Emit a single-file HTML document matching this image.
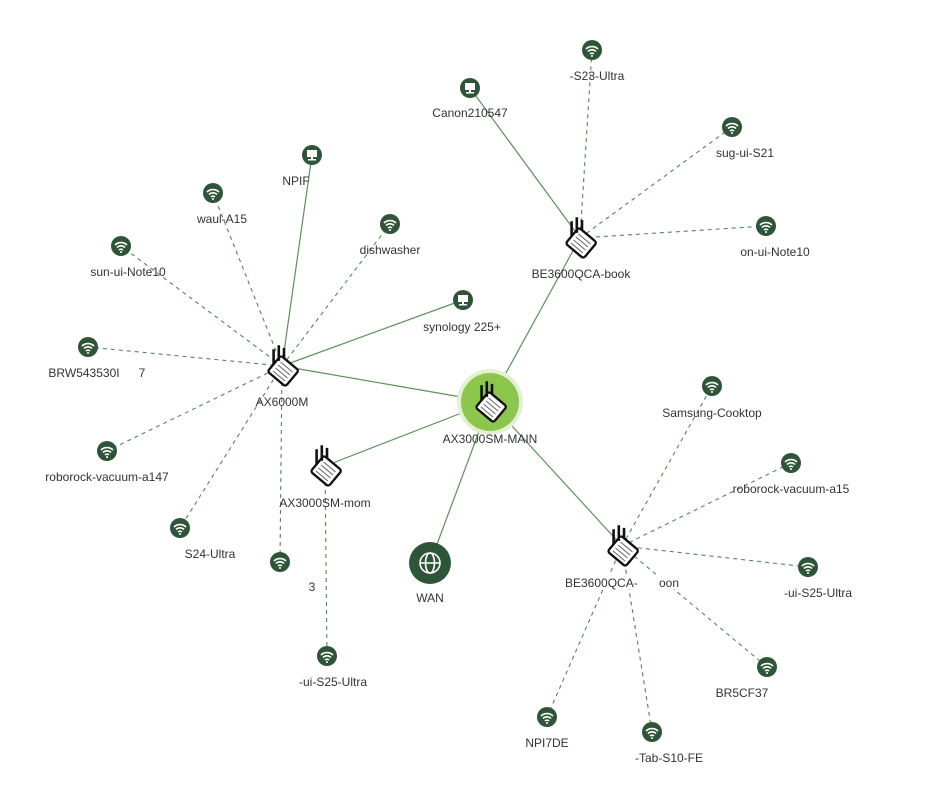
<!DOCTYPE html>
<html><head><meta charset="utf-8"><style>
html,body{margin:0;padding:0;background:#fff;width:939px;height:790px;overflow:hidden}
text{font-family:"Liberation Sans",Arial,sans-serif;font-size:12px;fill:#333;text-anchor:middle}
</style></head><body>
<svg width="939" height="790" viewBox="0 0 939 790" xmlns="http://www.w3.org/2000/svg">
<defs>
<g id="wifi"><circle r="10" fill="#2e5538"/>
<path d="M-6,-1 A8.5,8.5 0 0 1 6,-1" stroke="#fff" stroke-width="1.6" fill="none"/>
<path d="M-4,1.5 A5.5,5.5 0 0 1 4,1.5" stroke="#fff" stroke-width="1.6" fill="none"/>
<path d="M-2,4 A2.8,2.8 0 0 1 2,4" stroke="#fff" stroke-width="1.6" fill="none"/>
<circle cy="6" r="1" fill="#fff"/></g>
<g id="mon"><circle r="10" fill="#2e5538"/>
<rect x="-5" y="-5" width="10" height="7" fill="#fff"/><rect x="-1" y="2" width="2" height="2" fill="#fff"/><rect x="-4" y="4" width="8" height="1.5" fill="#fff"/></g>
<g id="rtr"><g transform="scale(1.3)">
<g transform="rotate(40)">
<rect x="-9" y="-7" width="18" height="16" rx="2" fill="#fff" stroke="#111" stroke-width="1.8"/>
<path d="M-6,-3H6M-6,0H6M-6,3H6M-6,6H6" stroke="#666" stroke-width="0.8"/>
</g>
<path d="M-8,-4V-16M-4,-7V-19M0,-9V-17" stroke="#111" stroke-width="2"/>
</g></g>
</defs>
<g stroke="#5c925c" stroke-width="1.2" fill="none">
<line x1="490" y1="402" x2="282" y2="366"/>
<line x1="490" y1="402" x2="325" y2="466"/>
<line x1="490" y1="402" x2="580" y2="238"/>
<line x1="490" y1="402" x2="622" y2="546"/>
<line x1="490" y1="402" x2="430" y2="563"/>
<line x1="580" y1="238" x2="470" y2="88"/>
<line x1="282" y1="366" x2="312" y2="155"/>
<line x1="282" y1="366" x2="463" y2="300"/>
</g>
<g stroke="#4d8a55" stroke-width="1.1" fill="none" stroke-dasharray="4,4">
<line x1="580" y1="238" x2="592" y2="50"/>
<line x1="580" y1="238" x2="732" y2="127"/>
<line x1="580" y1="238" x2="766" y2="226"/>
<line x1="282" y1="366" x2="213" y2="193"/>
<line x1="282" y1="366" x2="390" y2="224"/>
<line x1="282" y1="366" x2="121" y2="246"/>
<line x1="282" y1="366" x2="88" y2="347"/>
<line x1="282" y1="366" x2="107" y2="451"/>
<line x1="282" y1="366" x2="180" y2="528"/>
<line x1="282" y1="366" x2="280" y2="562"/>
<line x1="325" y1="466" x2="327" y2="656"/>
<line x1="622" y1="546" x2="712" y2="386"/>
<line x1="622" y1="546" x2="791" y2="463"/>
<line x1="622" y1="546" x2="808" y2="567"/>
<line x1="622" y1="546" x2="767" y2="667"/>
<line x1="622" y1="546" x2="547" y2="717"/>
<line x1="622" y1="546" x2="652" y2="732"/>
</g>
<circle cx="490" cy="402" r="33" fill="#e4f0d4"/>
<circle cx="490" cy="402" r="29" fill="#8cc64c"/>
<use href="#rtr" x="492" y="406"/>
<use href="#rtr" x="284" y="370"/>
<use href="#rtr" x="327" y="470"/>
<use href="#rtr" x="582" y="242"/>
<use href="#rtr" x="624" y="550"/>
<circle cx="430" cy="563" r="21" fill="#2e5538"/>
<g stroke="#fff" stroke-width="1.6" fill="none"><circle cx="430" cy="563" r="10"/><ellipse cx="430" cy="563" rx="4.5" ry="10"/><line x1="420" y1="563" x2="440" y2="563"/></g>
<use href="#wifi" x="592" y="50"/><use href="#mon" x="470" y="88"/>
<use href="#wifi" x="732" y="127"/><use href="#wifi" x="766" y="226"/>
<use href="#mon" x="312" y="155"/><use href="#wifi" x="213" y="193"/>
<use href="#wifi" x="390" y="224"/><use href="#wifi" x="121" y="246"/>
<use href="#mon" x="463" y="300"/><use href="#wifi" x="88" y="347"/>
<use href="#wifi" x="107" y="451"/><use href="#wifi" x="180" y="528"/>
<use href="#wifi" x="280" y="562"/><use href="#wifi" x="327" y="656"/>
<use href="#wifi" x="712" y="386"/><use href="#wifi" x="791" y="463"/>
<use href="#wifi" x="808" y="567"/><use href="#wifi" x="767" y="667"/>
<use href="#wifi" x="547" y="717"/><use href="#wifi" x="652" y="732"/>
<text x="490" y="443">AX3000SM-MAIN</text>
<text x="282" y="406">AX6000M</text>
<text x="325" y="507">AX3000SM-mom</text>
<text x="581" y="278">BE3600QCA-book</text>
<rect x="565" y="575" width="115" height="14" fill="#fff"/>
<text x="565" y="587" style="text-anchor:start">BE3600QCA-</text>
<text x="659" y="587" style="text-anchor:start">oon</text>
<text x="430" y="602">WAN</text>
<text x="597" y="80">-S23-Ultra</text>
<text x="470" y="117">Canon210547</text>
<text x="745" y="157">sug-ui-S21</text>
<text x="775" y="256">on-ui-Note10</text>
<text x="296" y="185">NPIF</text>
<text x="222" y="223">waul-A15</text>
<text x="390" y="254">dishwasher</text>
<text x="128" y="276">sun-ui-Note10</text>
<text x="462" y="331">synology 225+</text>
<text x="84" y="377">BRW543530I</text><text x="142" y="377">7</text>
<text x="107" y="481">roborock-vacuum-a147</text>
<text x="210" y="558">S24-Ultra</text>
<text x="312" y="591">3</text>
<text x="333" y="686">-ui-S25-Ultra</text>
<text x="712" y="417">Samsung-Cooktop</text>
<text x="791" y="493">roborock-vacuum-a15</text>
<text x="818" y="597">-ui-S25-Ultra</text>
<text x="742" y="697">BR5CF37</text>
<text x="547" y="747">NPI7DE</text>
<text x="669" y="762">-Tab-S10-FE</text>
</svg>
</body></html>
